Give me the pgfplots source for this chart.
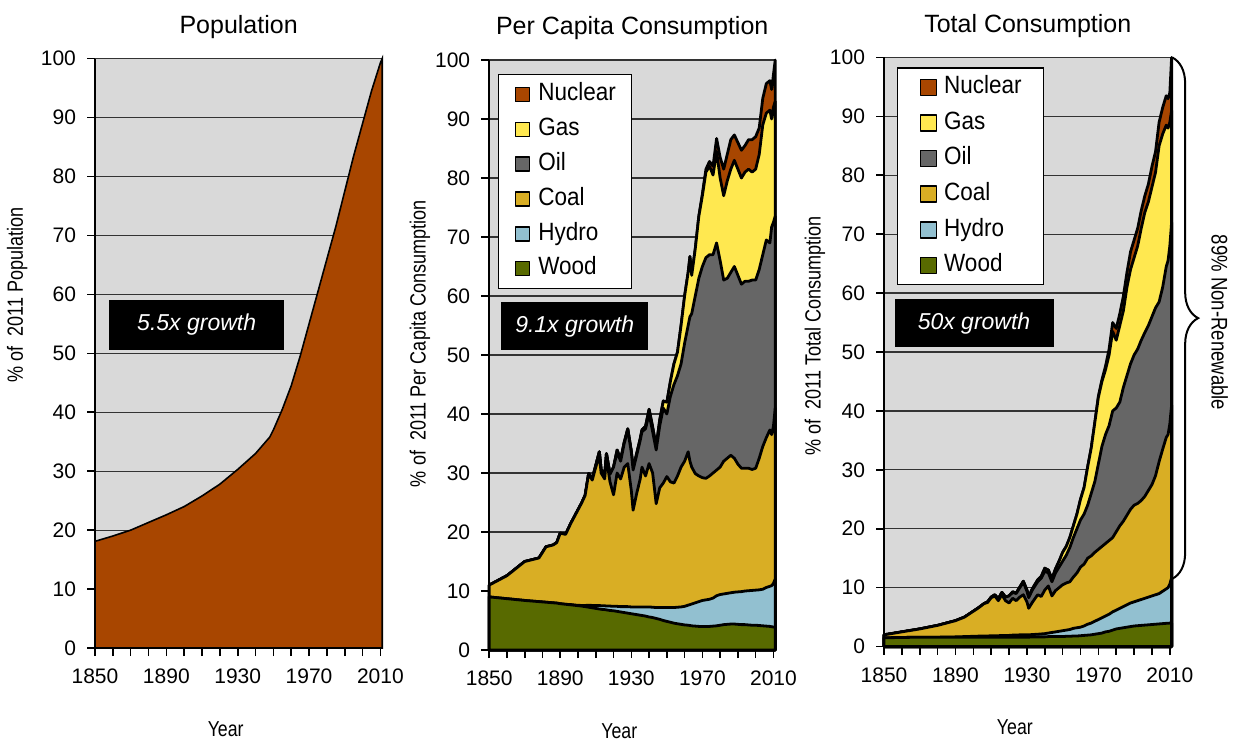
\documentclass[border=0pt]{standalone}
\usepackage{fontspec}
\setmainfont{Liberation Sans}
\newfontfamily\cond[FakeStretch=0.9]{Liberation Sans}
\newfontfamily\condb[FakeStretch=0.82]{Liberation Sans}
\usepackage{pgfplots}
\usepackage{pgfplotstable}
\pgfplotsset{compat=1.18}
\usetikzlibrary{decorations.pathreplacing}

\definecolor{bggray}{RGB}{217,217,217}
\definecolor{cnuc}{RGB}{168,70,0}
\definecolor{cgas}{RGB}{255,232,80}
\definecolor{coil}{RGB}{102,102,102}
\definecolor{ccoal}{RGB}{217,174,36}
\definecolor{chydro}{RGB}{146,192,208}
\definecolor{cwood}{RGB}{88,106,0}

% Population, % of 2011
\pgfplotstableread{
year pop
1850 18.1
1860 19.0
1870 20.0
1880 21.3
1890 22.6
1900 24.0
1910 25.8
1920 27.8
1930 30.3
1940 33.0
1948 35.8
1950 37.0
1955 40.5
1960 44.5
1965 49.5
1970 55.0
1975 60.5
1980 66.0
1985 71.5
1990 77.5
1995 83.5
2000 89.0
2005 94.5
2010 99.3
2011 100
}\popdata

% Per capita consumption, cumulative tops (% of 2011)
\pgfplotstableread{
year wood hydro coal oil gas nuc
1850 9.0 9.0 11.0 11.0 11.0 11.0
1855 8.85 8.85 11.8 11.8 11.8 11.8
1860 8.7 8.7 12.6 12.6 12.6 12.6
1865 8.55 8.55 13.8 13.8 13.8 13.8
1870 8.4 8.4 15.0 15.0 15.0 15.0
1874 8.3 8.3 15.3 15.3 15.3 15.3
1878 8.2 8.2 15.6 15.6 15.6 15.6
1882 8.1 8.1 17.5 17.5 17.5 17.5
1886 8.0 8.0 17.8 17.8 17.8 17.8
1888 7.95 7.95 18.2 18.2 18.2 18.2
1890 7.85 7.85 19.8 19.8 19.8 19.8
1893 7.75 7.75 19.6 19.6 19.6 19.6
1896 7.65 7.7 21.5 21.5 21.5 21.5
1899 7.55 7.6 23.2 23.2 23.2 23.2
1902 7.45 7.55 24.9 24.9 24.9 24.9
1904 7.35 7.55 26.2 26.2 26.2 26.2
1906 7.25 7.6 29.9 29.9 29.9 29.9
1908 7.15 7.55 28.8 29.0 29.0 29.0
1910 7.05 7.55 31.0 31.3 31.3 31.3
1912 6.95 7.55 33.0 33.6 33.6 33.6
1913 6.9 7.5 30.0 30.6 30.6 30.6
1915 6.85 7.5 29.0 29.6 29.6 29.6
1916 6.8 7.45 32.5 33.3 33.3 33.3
1918 6.7 7.45 28.5 29.8 29.8 29.8
1920 6.65 7.4 26.3 31.0 31.0 31.0
1922 6.55 7.4 30.0 33.5 33.9 33.9
1924 6.45 7.35 29.0 32.0 32.3 32.3
1926 6.35 7.35 31.0 35.0 35.2 35.2
1928 6.25 7.35 31.6 37.3 37.5 37.5
1930 6.15 7.3 27.0 33.5 33.7 33.7
1931 6.1 7.3 23.7 30.5 30.7 30.7
1933 6.0 7.3 26.5 33.0 33.3 33.3
1935 5.9 7.3 29.0 35.5 35.8 35.8
1936 5.85 7.3 31.0 37.0 37.3 37.3
1938 5.75 7.3 29.5 37.5 37.9 37.9
1940 5.6 7.3 31.6 40.0 40.8 40.8
1942 5.5 7.25 30.0 37.0 37.8 37.8
1944 5.35 7.2 24.8 33.9 34.5 34.5
1946 5.2 7.2 27.5 38.0 39.0 39.0
1948 5.0 7.2 28.3 41.0 42.2 42.2
1950 4.85 7.2 29.4 40.0 42.0 42.0
1952 4.7 7.2 28.5 43.0 45.5 45.5
1954 4.55 7.2 28.3 45.0 48.5 48.5
1956 4.45 7.25 29.5 46.5 50.5 50.5
1958 4.35 7.3 31.0 48.5 55.0 55.0
1960 4.25 7.4 32.0 52.0 60.0 60.0
1962 4.2 7.6 33.6 55.0 64.0 64.0
1963 4.15 7.7 32.0 56.5 66.7 66.7
1964 4.1 7.8 31.0 57.0 63.5 63.5
1966 4.05 8.0 29.9 60.0 68.0 68.0
1968 4.0 8.2 29.5 63.0 73.5 73.5
1970 4.0 8.4 29.2 65.0 77.0 77.3
1972 4.0 8.5 29.1 66.5 81.0 81.5
1974 4.0 8.6 29.5 67.0 82.0 82.8
1976 4.05 8.8 30.0 67.0 80.5 82.0
1978 4.1 9.2 30.5 69.0 84.5 86.7
1980 4.2 9.4 31.0 66.0 80.0 83.5
1982 4.3 9.5 32.0 62.7 77.0 81.5
1984 4.35 9.6 32.5 63.0 79.5 84.0
1986 4.4 9.7 33.0 64.0 81.5 86.5
1988 4.4 9.8 32.5 65.0 83.0 87.3
1990 4.35 9.85 31.5 63.5 81.5 86.0
1992 4.3 9.9 30.8 62.0 80.0 84.7
1994 4.3 10.0 30.8 62.5 81.0 85.5
1996 4.25 10.05 30.8 62.5 81.5 86.5
1998 4.2 10.1 30.6 62.7 81.0 86.5
2000 4.2 10.15 30.8 62.7 81.5 87.0
2002 4.15 10.2 32.5 64.5 84.0 88.5
2004 4.1 10.3 34.5 67.0 89.0 93.5
2006 4.05 10.6 36.0 69.5 91.0 96.0
2008 4.0 10.8 37.3 69.0 91.5 96.5
2009 3.95 10.9 36.5 71.7 90.0 95.0
2010 3.9 11.3 37.9 72.5 92.0 97.5
2011 3.9 12.0 41.0 73.5 93.0 100.0
}\pcdata

% Total consumption, cumulative tops (% of 2011)
\pgfplotstableread{
year wood hydro coal oil gas nuc
1850 1.5 1.5 2.0 2.0 2.0 2.0
1860 1.55 1.55 2.5 2.5 2.5 2.5
1870 1.6 1.6 3.0 3.0 3.0 3.0
1875 1.6 1.6 3.3 3.3 3.3 3.3
1880 1.6 1.6 3.6 3.6 3.6 3.6
1885 1.6 1.62 4.0 4.0 4.0 4.0
1890 1.6 1.65 4.4 4.4 4.4 4.4
1895 1.6 1.7 5.0 5.0 5.0 5.0
1900 1.6 1.75 6.0 6.0 6.0 6.0
1903 1.6 1.78 6.6 6.6 6.6 6.6
1906 1.6 1.8 7.3 7.3 7.3 7.3
1908 1.6 1.8 7.5 7.6 7.6 7.6
1910 1.6 1.85 8.3 8.4 8.4 8.4
1912 1.6 1.85 8.6 8.8 8.8 8.8
1914 1.6 1.85 7.8 8.1 8.1 8.1
1916 1.6 1.9 8.8 9.2 9.2 9.2
1918 1.6 1.9 7.8 8.4 8.4 8.4
1920 1.6 1.9 7.4 8.6 8.6 8.6
1922 1.6 1.95 8.2 9.2 9.3 9.3
1924 1.6 1.95 7.8 9.0 9.1 9.1
1926 1.6 2.0 8.4 10.0 10.1 10.1
1928 1.6 2.0 8.8 10.9 11.1 11.1
1930 1.6 2.0 7.6 9.4 9.6 9.6
1931 1.6 2.0 6.5 8.3 8.5 8.5
1933 1.65 2.05 7.5 9.6 9.8 9.8
1936 1.65 2.1 8.8 11.0 11.3 11.3
1938 1.65 2.15 8.5 11.6 11.9 11.9
1940 1.65 2.2 9.6 12.8 13.3 13.3
1942 1.7 2.3 10.3 12.5 13.0 13.0
1944 1.7 2.4 8.6 11.0 11.5 11.5
1946 1.7 2.5 9.5 12.5 13.2 13.2
1948 1.7 2.6 10.0 13.5 14.5 14.5
1950 1.7 2.7 10.5 14.5 16.0 16.0
1952 1.75 2.8 10.8 15.5 17.0 17.0
1954 1.75 2.9 11.0 16.8 18.5 18.5
1956 1.8 3.1 11.8 18.5 20.5 20.5
1958 1.8 3.2 12.5 20.0 22.5 22.5
1960 1.85 3.3 13.5 21.5 25.0 25.0
1962 1.9 3.5 14.0 22.5 27.0 27.0
1964 1.95 3.8 15.0 24.0 30.5 30.5
1966 2.0 4.0 15.4 26.0 33.7 33.7
1968 2.1 4.3 16.0 28.0 38.0 38.0
1970 2.2 4.6 16.5 31.0 42.3 42.5
1972 2.3 4.9 17.0 34.0 45.0 45.3
1974 2.5 5.2 17.5 36.0 47.0 47.6
1976 2.6 5.5 18.0 37.5 49.5 50.5
1978 2.8 5.9 18.5 40.0 53.5 55.0
1980 3.0 6.2 19.5 40.5 52.0 54.0
1982 3.1 6.5 20.5 41.5 54.5 56.5
1984 3.2 6.8 21.3 44.0 57.0 59.5
1986 3.3 7.1 22.3 46.0 61.0 63.5
1988 3.4 7.4 23.3 48.0 64.0 67.0
1990 3.5 7.6 24.0 49.5 66.0 69.0
1992 3.55 7.8 24.3 50.5 68.0 71.0
1994 3.6 8.0 24.8 52.0 71.0 74.0
1996 3.65 8.2 25.5 53.3 73.7 76.5
1998 3.7 8.4 26.5 54.5 75.5 78.5
2000 3.75 8.6 27.5 56.0 78.0 81.5
2002 3.8 8.8 29.0 57.5 80.5 84.0
2004 3.85 9.0 31.4 58.5 85.0 89.0
2006 3.9 9.4 33.5 61.0 87.0 91.5
2008 3.95 9.8 35.5 64.5 88.5 93.5
2009 3.95 10.0 36.0 65.5 88.0 93.0
2010 4.0 10.6 37.8 68.0 89.0 94.0
2011 4.0 11.7 41.0 72.0 91.0 100.0
}\tcdata

\tikzset{growth/.style={fill=black, text=white, inner sep=0pt, font=\itshape\fontsize{11.5}{13}\selectfont}}

\pgfplotsset{
  panel/.style={
    scale only axis, width=143.6pt, height=294.7pt,
    xmin=1850, xmax=2011, ymin=0, ymax=100,
    axis x line*=bottom, axis y line*=left,
    axis line style={line width=1.2pt, -},
    xtick={1850,1860,...,2010},
    xticklabels={1850,,,,1890,,,,1930,,,,1970,,,,2010},
    ytick={0,10,...,100},
    tick align=outside, major tick length=4pt,
    tick style={black, line width=0.8pt},
    ymajorgrids, major grid style={black!80, line width=0.6pt},
    axis background/.style={fill=bggray},
    tick label style={font=\fontsize{10.5}{12}\selectfont},
    /pgf/number format/assume math mode=true,
    xticklabel style={yshift=-3pt},
    yticklabel style={xshift=-2pt},
    xlabel={Year},
    xlabel style={at={(axis description cs:0.455,-0.1375)}, anchor=center, font=\condb\fontsize{10.8}{12}\selectfont},
    title style={at={(axis description cs:0.5,1)}, anchor=base, yshift=6.5pt, font=\fontsize{12.5}{15}\selectfont},
    ylabel style={anchor=center, font=\condb\fontsize{11}{12}\selectfont},
    clip=false,
    legend cell align=left,
    legend image code/.code={\draw[##1, draw=black, line width=0.8pt] (0pt,-3.5pt) rectangle (7pt,3.5pt);},
  },
  ar/.style={draw=black, line width=1.4pt, line join=round, fill=#1},
}

\begin{document}
\begin{tikzpicture}
\useasboundingbox (0,0) rectangle (620pt,370.5pt);

% ---------- Population ----------
\begin{axis}[panel, at={(47.5pt,46.5pt)}, anchor=south west,
  title={Population},
  ylabel={\% of~ 2011 Population},
  ylabel style={at={(axis description cs:-0.271,0.599)}}]
\addplot[draw=black, line width=0.8pt, fill=cnuc] table[x=year,y=pop]{\popdata} \closedcycle;
\node[growth, minimum width=87.5pt, minimum height=25pt] at (axis description cs:0.354,0.548) {5.5x growth};
\end{axis}

% ---------- Per capita ----------
\begin{axis}[panel, at={(244.6pt,45.5pt)}, anchor=south west, width=143pt, height=295pt,
  title={Per Capita Consumption},
  ylabel={\% of~ 2011 Per Capita Consumption},
  ylabel style={at={(axis description cs:-0.242,0.519)}},
  legend style={at={(axis description cs:0.031,0.976)}, anchor=north west, draw=black, line width=0.6pt, fill=white,
    inner xsep=8pt, inner ysep=4.3pt, row sep=6.1pt, column sep=4pt,
    font=\cond\fontsize{12.5}{14}\selectfont,
    nodes={inner sep=0pt, text height=8.8pt, text depth=2.5pt, anchor=west}}]
\addplot[ar=cnuc] table[x=year,y=nuc]{\pcdata} \closedcycle;
\addlegendentry{Nuclear}
\addplot[ar=cgas] table[x=year,y=gas]{\pcdata} \closedcycle;
\addlegendentry{Gas}
\addplot[ar=coil] table[x=year,y=oil]{\pcdata} \closedcycle;
\addlegendentry{Oil}
\addplot[ar=ccoal] table[x=year,y=coal]{\pcdata} \closedcycle;
\addlegendentry{Coal}
\addplot[ar=chydro] table[x=year,y=hydro]{\pcdata} \closedcycle;
\addlegendentry{Hydro}
\addplot[ar=cwood] table[x=year,y=wood]{\pcdata} \closedcycle;
\addlegendentry{Wood}
\node[growth, minimum width=73.5pt, minimum height=24pt] at (axis description cs:0.299,0.549) {9.1x growth};
\end{axis}

% ---------- Total ----------
\begin{axis}[panel, at={(442pt,47.2pt)}, anchor=south west, width=143.8pt, height=294.6pt,
  title={Total Consumption},
  ylabel={\% of~ 2011 Total Consumption},
  ylabel style={at={(axis description cs:-0.24,0.527)}},
  legend style={at={(axis description cs:0.045,0.983)}, anchor=north west, draw=black, line width=0.6pt, fill=white,
    inner xsep=11pt, inner ysep=4pt, row sep=6.5pt, column sep=3.5pt,
    font=\cond\fontsize{12.5}{14}\selectfont,
    nodes={inner sep=0pt, text height=8.8pt, text depth=2.5pt, anchor=west}},
  legend image code/.code={\draw[#1, draw=black, line width=0.8pt] (0pt,-4pt) rectangle (8pt,4pt);}]
\addplot[ar=cnuc] table[x=year,y=nuc]{\tcdata} \closedcycle;
\addlegendentry{Nuclear}
\addplot[ar=cgas] table[x=year,y=gas]{\tcdata} \closedcycle;
\addlegendentry{Gas}
\addplot[ar=coil] table[x=year,y=oil]{\tcdata} \closedcycle;
\addlegendentry{Oil}
\addplot[ar=ccoal] table[x=year,y=coal]{\tcdata} \closedcycle;
\addlegendentry{Coal}
\addplot[ar=chydro] table[x=year,y=hydro]{\tcdata} \closedcycle;
\addlegendentry{Hydro}
\addplot[ar=cwood] table[x=year,y=wood]{\tcdata} \closedcycle;
\addlegendentry{Wood}
\node[growth, minimum width=79.5pt, minimum height=24pt] at (axis description cs:0.313,0.549) {50x growth};
\draw[decorate, decoration={brace, amplitude=13pt}, line width=1pt] (axis cs:2011.3,100) -- (axis cs:2011.3,11.5);
\node[rotate=-90, font=\condb\fontsize{11.3}{12}\selectfont] at ([xshift=24pt]axis cs:2011,55) {89\% Non-Renewable};
\end{axis}
\end{tikzpicture}
\end{document}
